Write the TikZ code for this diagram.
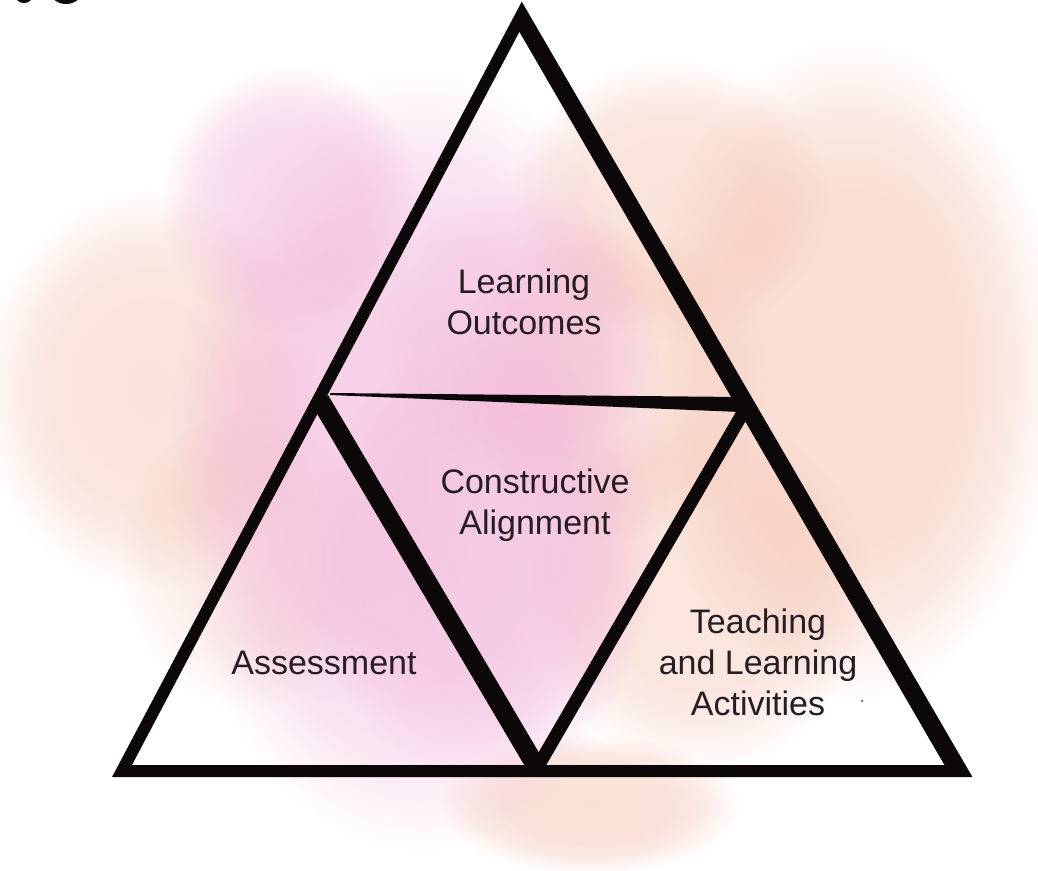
\documentclass[tikz,border=0pt]{standalone}
\usepackage{fontspec}
\setmainfont{Liberation Sans}
\usetikzlibrary{fadings}
\definecolor{pinkw}{RGB}{242,178,216}
\definecolor{peachw}{RGB}{245,190,170}
\definecolor{ink}{RGB}{12,8,10}
\definecolor{txt}{RGB}{38,28,36}
\pgfdeclareradialshading{softsh}{\pgfpointorigin}{color(0bp)=(white); color(14bp)=(black!5); color(19bp)=(black!35); color(25bp)=(black); color(50bp)=(black)}
\pgfdeclarefading{soft}{\pgfuseshading{softsh}}
\tikzset{
  wash/.style={path fading=soft, fill=#1},
  lbl/.style={font=\fontsize{34}{41}\selectfont, text=txt, align=center, inner sep=0pt},
  stroke/.style={draw=ink, line width=#1}
}
\begin{document}
\begin{tikzpicture}[x=1pt,y=-1pt]
\useasboundingbox (0,0) rectangle (1038,870);
\fill[white] (0,0) rectangle (1038,870);
\begin{scope}
\clip (0,0) rectangle (1038,870);
% watercolour washes
\fill[wash=peachw, fill opacity=0.42] (150,390) ellipse [x radius=170, y radius=200];
\fill[wash=peachw, fill opacity=0.25] (250,560) ellipse [x radius=130, y radius=150];
\fill[wash=peachw, fill opacity=0.5] (850,370) ellipse [x radius=210, y radius=330];
\fill[wash=peachw, fill opacity=0.4] (700,590) ellipse [x radius=170, y radius=180];
\fill[wash=peachw, fill opacity=0.45] (590,805) ellipse [x radius=150, y radius=70];
\fill[wash=peachw, fill opacity=0.42] (670,200) ellipse [x radius=160, y radius=140];
\fill[wash=peachw, fill opacity=0.38] (610,380) ellipse [x radius=160, y radius=160];
\fill[wash=pinkw, fill opacity=0.5] (420,460) ellipse [x radius=250, y radius=390];
\fill[wash=pinkw, fill opacity=0.45] (290,200) ellipse [x radius=130, y radius=135];
\fill[wash=pinkw, fill opacity=0.35] (480,560) ellipse [x radius=170, y radius=220];
\fill[wash=pinkw, fill opacity=0.3] (520,330) ellipse [x radius=140, y radius=140];
\fill[wash=pinkw, fill opacity=0.2] (330,460) ellipse [x radius=150, y radius=240];
% cropped glyph at the top left
\fill[ink] (24,-5) ellipse [x radius=9, y radius=8];
\fill[ink] (66,-9) ellipse [x radius=16, y radius=13];
\end{scope}
% triangle
\coordinate (A) at (522,14);
\coordinate (BL) at (122,771);
\coordinate (BR) at (962,771);
\coordinate (L) at (320,400);
\coordinate (R) at (748,404);
\coordinate (M) at (537,768);
\draw[stroke=12, line join=miter] (A) -- (BL) -- (BR) -- cycle;
\fill[ink] (523,26) -- (957,766) -- (945,766) -- (516,26) -- cycle;
\draw[stroke=19] (L) -- (M);
\draw[stroke=13] (R) -- (M);
\fill[ink] (330,393) -- (740,397) -- (750,398) -- (750,412) -- (740,412) -- (330,395) -- cycle;
\fill[gray] (862,701) circle (1.5);
% labels
\node[lbl] (lo) at (524,302) {Learning\\Outcomes};
\node[lbl] (ca) at (535,505) {Constructive\\Alignment};
\node[lbl] (as) at (324,663) {Assessment};
\node[lbl] (tla) at (758,662) {Teaching\\and Learning\\Activities};
\end{tikzpicture}
\end{document}
